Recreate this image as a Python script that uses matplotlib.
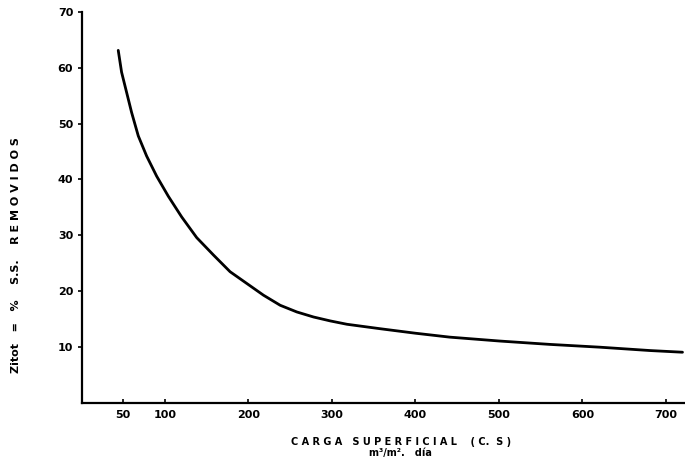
import matplotlib
matplotlib.use("Agg")
import matplotlib.pyplot as plt

# Carga superficial (m3/m2.dia) vs % S.S. removidos
carga = [44, 48, 54, 60, 68, 78, 90, 104, 120, 138, 158, 178, 198, 218,
         238, 258, 278, 298, 318, 358, 400, 441, 501, 561, 621, 681, 720]
removidos = [63.1, 59.2, 55.6, 52.0, 47.8, 44.2, 40.6, 37.0, 33.3, 29.6, 26.5,
             23.5, 21.4, 19.3, 17.5, 16.3, 15.4, 14.7, 14.1, 13.3, 12.5, 11.8,
             11.1, 10.5, 10.0, 9.4, 9.1]

x_ticks = [50, 100, 200, 300, 400, 500, 600, 700]
y_ticks = [10, 20, 30, 40, 50, 60, 70]

plt.rcParams["font.family"] = "DejaVu Sans"
plt.rcParams["font.weight"] = "bold"

fig = plt.figure(figsize=(6.85, 4.72), dpi=100)
ax = fig.add_axes([0.119, 0.146, 0.881, 0.829])

ax.plot(carga, removidos, color="black", linewidth=2.0,
        solid_capstyle="round", solid_joinstyle="round")

ax.set_xlim(0, 723)
ax.set_ylim(0, 70)
ax.set_xticks(x_ticks)
ax.set_yticks(y_ticks)
ax.tick_params(axis="both", labelsize=8, width=1.2, length=3, color="black", pad=3)
ax.tick_params(axis="x", direction="in", pad=5)
for lab in ax.get_xticklabels() + ax.get_yticklabels():
    lab.set_fontweight("bold")

for side in ["top", "right"]:
    ax.spines[side].set_visible(False)
for side in ["left", "bottom"]:
    ax.spines[side].set_linewidth(1.6)

fig.text(0.585, 0.052, "C A R G A   S U P E R F I C I A L    ( C.  S )\nm³/m².   día",
         fontsize=7, fontweight="bold", ha="center", va="center", linespacing=1.15)
fig.text(0.024, 0.46, "Zitot   =   %    S.S.    R E M O V I D O S", fontsize=8,
         fontweight="bold", rotation=90, ha="center", va="center")

fig.savefig("out.png", dpi=100)
